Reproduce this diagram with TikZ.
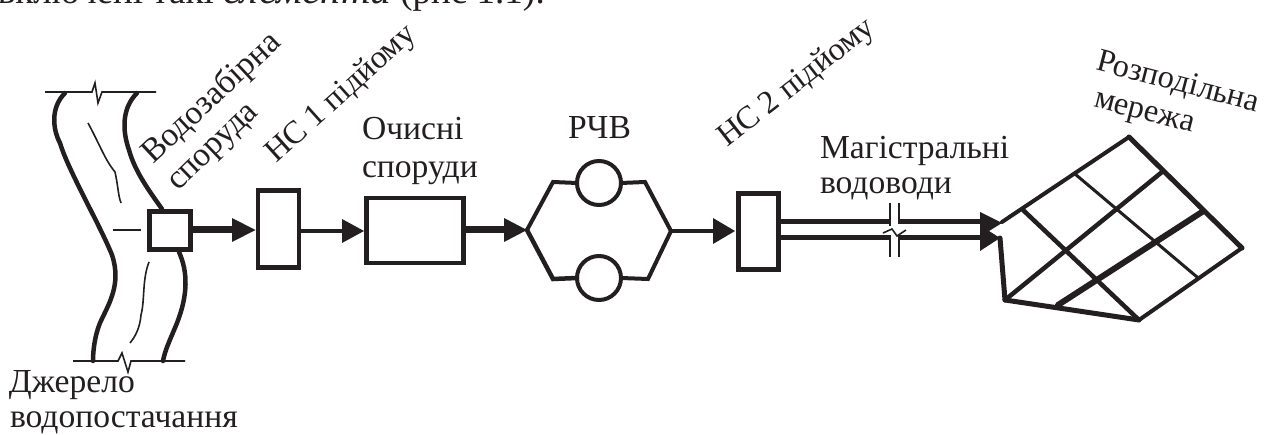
\documentclass[tikz,border=0pt]{standalone}
\usepackage{fontspec}
\setmainfont{Liberation Serif}
\definecolor{ink}{HTML}{231F20}
\tikzset{
  x=1pt,y=-1pt,
  lbl/.style={inner sep=0pt,outer sep=0pt,anchor=base west,text=ink,font=\fontsize{33.6}{33.6}\selectfont},
  sml/.style={lbl,font=\fontsize{32.4}{32.4}\selectfont},
  sbox/.style={draw=ink,line width=4.5pt,inner sep=0pt,outer sep=0pt,fill=white},
  ring/.style={draw=ink,line width=4pt,circle,inner sep=0pt,outer sep=0pt,minimum size=44pt,fill=white},
  pipe/.style={draw=ink,line width=#1},
  head/.style={fill=ink,draw=none},
  bank/.style={draw=ink,line width=4.5pt,line cap=round},
  thin/.style={draw=ink,line width=1.6pt},
  mesh/.style={draw=ink,line width=#1,line cap=round,line join=miter}
}
\begin{document}
\begin{tikzpicture}
\useasboundingbox (0,0) rectangle (1272,435);
\fill[white] (0,0) rectangle (1272,435);
% top text line, cut by the page edge
\node[lbl] (topline) at (-2,4) {\fontsize{37}{37}\selectfont включені такі {\fontsize{41}{41}\selectfont\textit{елементи}} (рис 1.1):};
% river
\draw[thin] (45,92) -- (92,92) -- (95,83) -- (98,103) -- (102,92) -- (156,92);
\draw[thin] (73,361) -- (118,361) -- (122,353) -- (128,372) -- (131,361) -- (185,361);
\draw[bank] (65,93) .. controls (50,108) and (53,130) .. (60,143) .. controls (68,170) and (100,225) .. (112,255) .. controls (122,285) and (108,305) .. (100,323) .. controls (95,335) and (93,350) .. (93,361);
\draw[bank] (137,93) .. controls (122,108) and (122,130) .. (129,150) .. controls (135,172) and (150,192) .. (162,209);
\draw[bank] (179,252) .. controls (188,272) and (188,295) .. (177,323) .. controls (170,340) and (165,350) .. (163,361);
\draw[thin] (88,123) .. controls (100,145) and (105,160) .. (115,172) .. controls (118,185) and (118,195) .. (121,203);
\draw[thin] (149,262) .. controls (142,280) and (145,300) .. (141,315) .. controls (140,328) and (135,337) .. (130,343);
\draw[draw=ink,line width=2.2pt] (113,230) -- (141,230);
% boxes
\node[sbox,minimum width=41pt,minimum height=38pt] (intake) at (169.8,230.5) {};
\node[sbox,minimum width=41pt,minimum height=77pt] (ps1) at (278.3,229) {};
\node[sbox,minimum width=97pt,minimum height=65pt] (plant) at (415,230.5) {};
\node[sbox,minimum width=40pt,minimum height=76pt] (ps2) at (758.5,231.5) {};
% connector arrows
\coordinate (v1) at (527,230);
\coordinate (v2) at (671,231);
\draw[pipe=7pt] (intake.east |- 0,230) -- (236,230);
\fill[head] (255.5,230) -- (232,218) -- (232,242) -- cycle;
\draw[pipe=4.5pt] (ps1.east |- 0,231) -- (344,231);
\fill[head] (364,231) -- (342,219) -- (342,243) -- cycle;
\draw[pipe=7pt] (plant.east |- 0,230) -- (506,230);
\fill[head] (v1) -- (504,218) -- (504,242) -- cycle;
\draw[pipe=4.5pt] (v2) -- (716,231);
\fill[head] (735,231) -- (713,218) -- (713,244) -- cycle;
% tanks
\node[ring] (t1) at (599,183) {};
\node[ring] (t2) at (599,278) {};
\draw[mesh=4pt] (v1) -- (553,182) -- (t1.west);
\draw[mesh=4pt] (t1.east) -- (645,182) -- (v2);
\draw[mesh=4.5pt] (v1) -- (553,279) -- (t2.west);
\draw[mesh=4pt] (t2.east) -- (648,279) -- (v2);
% mains
\draw[pipe=5pt] (ps2.east |- 0,222) -- (985,222);
\draw[pipe=5pt] (ps2.east |- 0,238) -- (985,238);
\fill[white] (891,215) rectangle (899,246);
\draw[draw=ink,line width=1.6pt] (890,203) -- (890,226) (899,203) -- (899,224) (890,238) -- (890,257) (899,236) -- (899,257);
\draw[draw=ink,line width=1.6pt] (883,233) -- (892,229) -- (897,236) -- (906,230);
\fill[head] (980,212) -- (1002,223) -- (989,231) -- (1000,238) -- (980,251) -- cycle;
% network
\coordinate (A) at (1002,222);
\coordinate (T) at (1129,137);
\coordinate (R) at (1242,248);
\coordinate (B) at (1139,320);
\coordinate (L) at (1005,300);
\coordinate (P) at (1000,238);
\draw[mesh=4pt] (A) -- (T);
\draw[mesh=5pt] (T) -- (R);
\draw[mesh=4pt] (R) -- (B);
\draw[mesh=5pt] (B) -- (L);
\draw[mesh=5pt] (L) -- (P);
\draw[mesh=4.5pt] (1023,210) -- (B);
\draw[mesh=3pt] (1075,174) -- (1197,277);
\draw[mesh=4.5pt] (L) -- (1162,172);
\draw[mesh=6pt] (1058,305) -- (1202,212);
% labels
\node[lbl,rotate=43] (l1) at (153,165) {Водозабірна};
\node[lbl,rotate=44] (l2) at (178,192) {споруда};
\node[sml,rotate=42] (l3) at (276,164) {НС 1 підйому};
\node[lbl] (l4) at (362,140) {Очисні};
\node[lbl] (l5) at (362,178) {споруди};
\node[lbl] (l6) at (568,139) {РЧВ};
\node[sml,rotate=38] (l7) at (727,148) {НС 2 підйому};
\node[lbl] (l8) at (820,159) {Магістральні};
\node[lbl] (l9) at (820,194) {водоводи};
\node[sml,rotate=-14.5] (l10) at (1095,70) {Розподільна};
\node[sml,rotate=-14.5] (l11) at (1093,107) {мережа};
\node[lbl] (l12) at (9,393) {Джерело};
\node[lbl] (l13) at (10,428) {водопостачання};
\end{tikzpicture}
\end{document}
